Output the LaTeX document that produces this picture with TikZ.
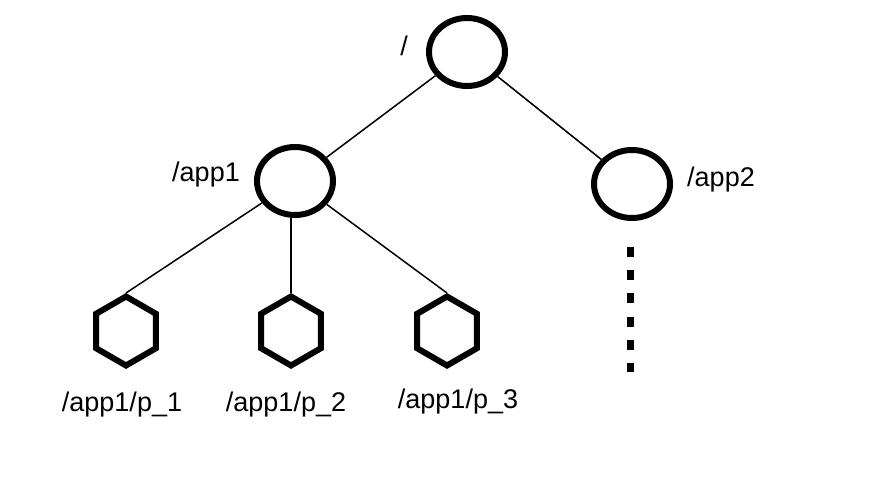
\documentclass[tikz,border=0pt]{standalone}
\usepackage{fontspec}
\setmainfont{Liberation Sans}
\usetikzlibrary{shapes.geometric}
\begin{document}
\begin{tikzpicture}[x=1pt,y=-1pt,
  znode/.style={draw=black, line width=6pt, ellipse, fill=white, inner sep=0pt,
    minimum width=76pt, minimum height=68pt},
  hexnode/.style={draw=black, line width=6pt, regular polygon, regular polygon sides=6,
    regular polygon rotate=30, fill=white, inner sep=0pt, minimum size=69pt},
  edge/.style={draw=black, line width=1.5pt},
  lbl/.style={font=\fontsize{27}{31}\selectfont, anchor=base, inner sep=0pt},
  dots/.style={draw=black, line width=7pt, dash pattern=on 10pt off 13.2pt}
]
\useasboundingbox[fill=white] (0,0) rectangle (874,489);
\node[znode] (root) at (467,52) {};
\node[znode] (app1) at (295,181) {};
\node[znode] (app2) at (632,184) {};
\node[hexnode] (h1) at (126,331) {};
\node[hexnode] (h2) at (291,331) {};
\node[hexnode] (h3) at (447,331) {};
\draw[edge] (root) -- (app1);
\draw[edge] (root) -- (app2);
\draw[edge] (app1) -- (h1.north);
\draw[edge] (app1.south -| h2.north) -- (h2.north);
\draw[edge] (app1) -- (h3.north);
\coordinate (d1) at (630,247);
\coordinate (d2) at (630,372);
\draw[dots] (d1) -- (d2);
\node[lbl] (lroot) at (404,56) {/};
\node[lbl] (lapp1) at (206,181) {/app1};
\node[lbl] (lapp2) at (721,186) {/app2};
\node[lbl] (lp1) at (122,411) {/app1/p\_1};
\node[lbl] (lp2) at (286,411) {/app1/p\_2};
\node[lbl] (lp3) at (458,408) {/app1/p\_3};
\end{tikzpicture}
\end{document}
